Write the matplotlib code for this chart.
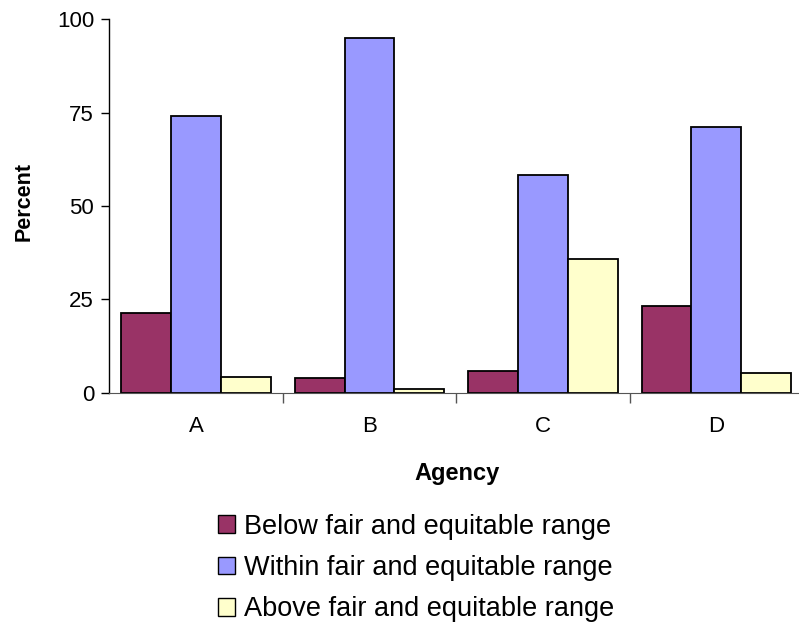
import numpy as np
import matplotlib.pyplot as plt
from matplotlib.patches import Patch

plt.rcParams['font.family'] = ['Liberation Sans', 'DejaVu Sans']

agencies = ['A', 'B', 'C', 'D']
below = [21.3, 3.9, 5.9, 23.3]
within = [74.1, 95.1, 58.2, 71.2]
above = [4.3, 0.9, 35.8, 5.4]
series_names = ['Below fair and equitable range',
                'Within fair and equitable range',
                'Above fair and equitable range']
colors = ['#993366', '#9999FF', '#FFFFCC']

fig = plt.figure(figsize=(7.99, 6.26), dpi=100)
ax = fig.add_axes([0.1368, 0.3727, 0.8682, 0.5965])

x = np.arange(len(agencies))
w = 0.287
for i, (vals, c) in enumerate(zip([below, within, above], colors)):
    ax.bar(x + (i - 1) * w, vals, width=w, color=c, edgecolor='black',
           linewidth=1.3, zorder=2)

ax.set_xlim(-0.5, 3.5)
ax.set_ylim(0, 100)
ax.set_yticks([0, 25, 50, 75, 100])
ax.tick_params(axis='y', labelsize=16, length=6, width=1, direction='out', pad=5)
ax.set_xticks(x)
ax.set_xticklabels(agencies)
ax.tick_params(axis='x', which='major', length=0, labelsize=16, pad=17)
ax.set_xticks([0.5, 1.5, 2.5], minor=True)
ax.tick_params(axis='x', which='minor', length=7, width=1, color='#555555')

for s in ['top', 'right']:
    ax.spines[s].set_visible(False)
ax.spines['bottom'].set_color('#555555')
ax.spines['left'].set_linewidth(1)

ax.set_ylabel('Percent', fontsize=15.5, fontweight='bold')
ax.yaxis.set_label_coords(-0.107, 0.512)
ax.set_xlabel('Agency', fontsize=17, fontweight='bold')
ax.xaxis.set_label_coords(0.501, -0.186)

handles = [Patch(facecolor=c, edgecolor='black', linewidth=1) for c in colors]
fig.legend(handles, series_names, loc='center', bbox_to_anchor=(0.521, 0.0927),
           frameon=False, fontsize=19.5, handlelength=0.62, handleheight=0.62,
           handletextpad=0.35, labelspacing=0.57, borderaxespad=0, borderpad=0)

fig.savefig('out.png', dpi=100)
